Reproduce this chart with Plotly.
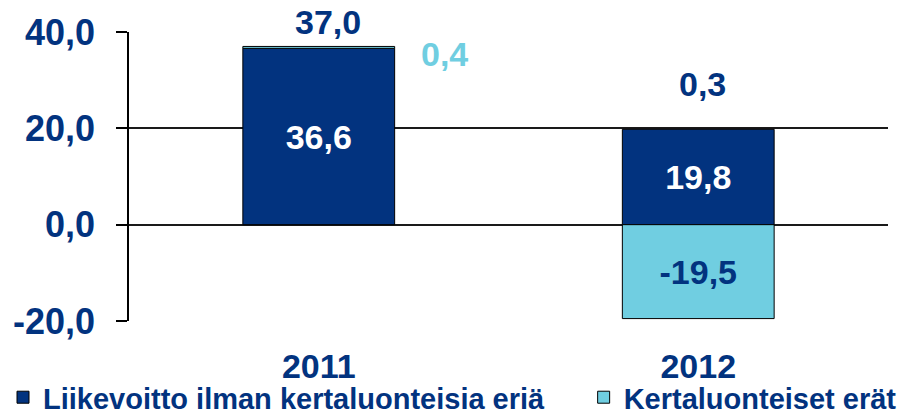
import plotly.graph_objects as go

categories = ["2011", "2012"]
series_names = ["Liikevoitto ilman kertaluonteisia eriä", "Kertaluonteiset erät"]
underlying = [36.6, 19.8]
one_off = [0.4, -19.5]
totals = [round(a + b, 1) for a, b in zip(underlying, one_off)]
y_ticks = [-20, 0, 20, 40]

NAVY = "#02337f"
CYAN = "#70cee1"
FONT = "Liberation Sans, Arial, sans-serif"


def fmt(v):
    return f"{v:.1f}".replace(".", ",")


fig = go.Figure()
fig.add_trace(go.Bar(
    x=categories, y=underlying, name=series_names[0], legend="legend",
    marker=dict(color=NAVY, line=dict(color="black", width=1)),
    text=[fmt(v) for v in underlying], textposition="inside",
    insidetextanchor="middle",
    textfont=dict(color="white", size=34, family=FONT, weight="bold"),
    width=0.4,
))
fig.add_trace(go.Bar(
    x=categories, y=one_off, name=series_names[1], legend="legend2",
    marker=dict(color=CYAN, line=dict(color="black", width=1)),
    text=[fmt(v) if abs(v) > 5 else "" for v in one_off], textposition="inside",
    insidetextanchor="middle",
    textfont=dict(color=NAVY, size=34, family=FONT, weight="bold"),
    width=0.4,
))

# total labels above stacks
pos_top = [max(a, 0) + max(b, 0) for a, b in zip(underlying, one_off)]
total_shift = [(9, 24), (4, 45)]
for i, (t, top, (dx, dy)) in enumerate(zip(totals, pos_top, total_shift)):
    fig.add_annotation(x=i, y=top, xref="x", yref="y", text="<b>" + fmt(t) + "</b>",
                       showarrow=False, xshift=dx, yshift=dy,
                       font=dict(color=NAVY, size=34, family=FONT))

# small one-off label for 2011
fig.add_annotation(x=0, y=pos_top[0], xref="x", yref="y",
                   text="<b>" + fmt(one_off[0]) + "</b>", showarrow=False,
                   xshift=126, yshift=-8,
                   font=dict(color=CYAN, size=34, family=FONT))

legend_font = dict(size=29, color=NAVY, family=FONT, weight="bold")
fig.update_layout(
    barmode="relative",
    width=906, height=412,
    margin=dict(l=121, r=26, t=24, b=99, autoexpand=False),
    plot_bgcolor="white", paper_bgcolor="white",
    font=dict(family=FONT, color=NAVY),
    showlegend=True,
    legend=dict(orientation="h", x=-0.166, xanchor="left", y=-0.176, yanchor="top",
                font=legend_font, itemclick=False, bgcolor="rgba(0,0,0,0)"),
    legend2=dict(orientation="h", x=0.599, xanchor="left", y=-0.176, yanchor="top",
                 font=legend_font, itemclick=False, bgcolor="rgba(0,0,0,0)"),
)
fig.update_yaxes(
    range=[-20, 40], tickvals=y_ticks, ticktext=[fmt(v) for v in y_ticks],
    showgrid=True, gridcolor="#1a1a1a", gridwidth=1.5,
    zeroline=True, zerolinecolor="#1a1a1a", zerolinewidth=1.5,
    showline=True, linecolor="black", linewidth=1.5,
    ticks="outside", ticklen=11, tickcolor="black", tickwidth=1.5,
    ticklabelstandoff=14, automargin=False,
    tickfont=dict(size=36, color=NAVY, family=FONT, weight="bold"),
)
fig.update_xaxes(
    type="category", range=[-0.5, 1.5], showline=False, ticks="", showgrid=False,
    ticklabelstandoff=22, automargin=False,
    tickfont=dict(size=34, color=NAVY, family=FONT, weight="bold"),
)

fig.write_html("out.html")
